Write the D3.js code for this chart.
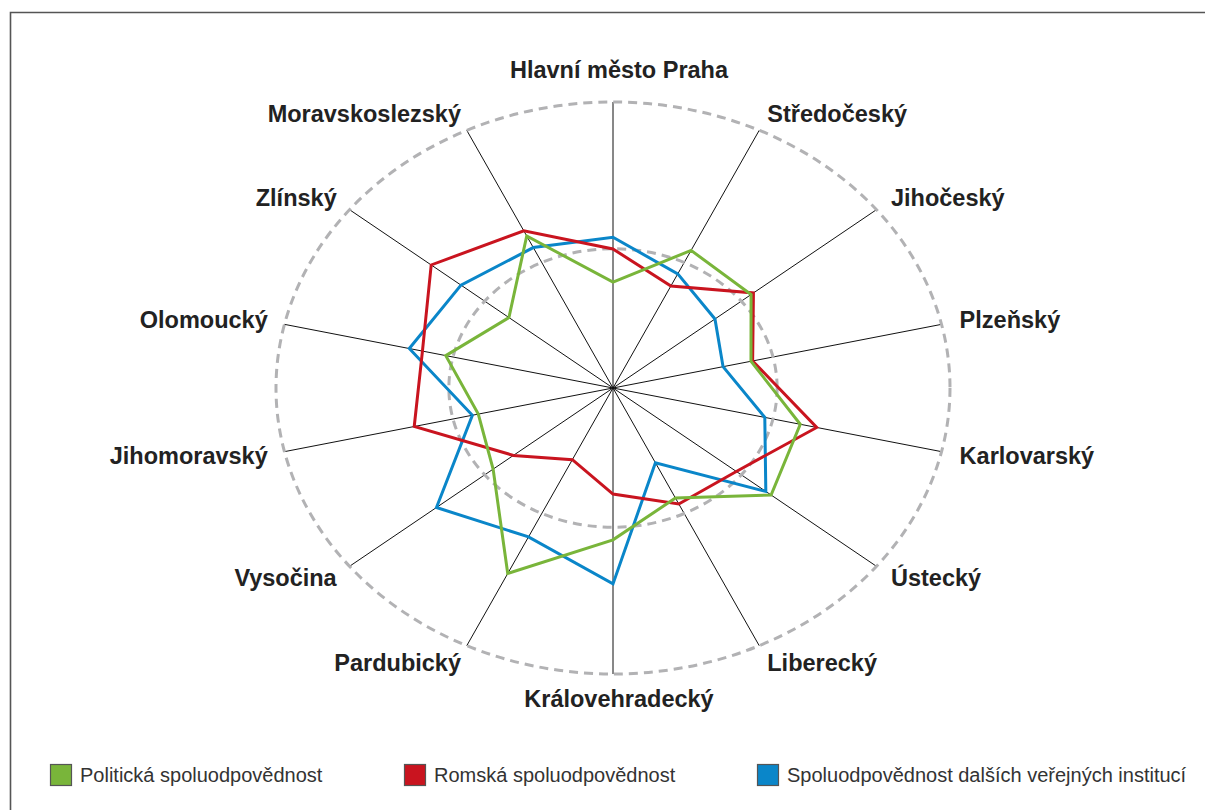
<!DOCTYPE html>
<html>
<head>
<meta charset="utf-8">
<script src="https://cdn.jsdelivr.net/npm/d3@7/dist/d3.min.js"></script>
<style>
  html, body { margin: 0; padding: 0; background: #fff; }
  svg { display: block; }
</style>
</head>
<body>
<svg id="chart" width="1205" height="810"></svg>
<script>
// ---------- data ----------
const regions = ["Hlavní město Praha", "Středočeský", "Jihočeský", "Plzeňský", "Karlovarský",
  "Ústecký", "Liberecký", "Královehradecký", "Pardubický", "Vysočina", "Jihomoravský",
  "Olomoucký", "Zlínský", "Moravskoslezský"];
const seriesNames = ["Politická spoluodpovědnost", "Romská spoluodpovědnost",
  "Spoluodpovědnost dalších veřejných institucí"];
const politicka = [37.0, 53.4, 52.4, 42.0, 57.0, 60.0, 42.7, 53.1, 72.0, 45.5, 41.0, 50.9, 39.5, 59.0];
const romska    = [48.6, 39.6, 53.3, 42.5, 62.0, 46.8, 45.0, 37.1, 27.8, 37.8, 60.5, 58.0, 69.0, 61.0];
const dalsi     = [52.7, 44.3, 38.7, 33.5, 46.2, 58.0, 29.0, 68.5, 57.8, 67.0, 42.8, 62.0, 57.7, 54.5];
const gridLevels = [48.7, 100];
const maxValue = 100;
const colors = ["#79b53a", "#c9141f", "#0a86c9"];

// ---------- layout ----------
const svg = d3.select("#chart");
const cx = 613, cy = 388, rx = 337, ry = 286;
const r = d3.scaleLinear().domain([0, maxValue]).range([0, 1]);
const angle = d3.scalePoint().domain(d3.range(regions.length)).range([0, 2 * Math.PI * (regions.length - 1) / regions.length]);
const px = (i, v) => cx + r(v) * rx * Math.sin(angle(i));
const py = (i, v) => cy - r(v) * ry * Math.cos(angle(i));

// frame
svg.append("path")
  .attr("d", "M10.5,830 L10.5,12.5 L1205,12.5")
  .attr("fill", "none").attr("stroke", "#555").attr("stroke-width", 1.6);

// axes
svg.append("g").selectAll("line").data(regions).join("line")
  .attr("x1", cx).attr("y1", cy)
  .attr("x2", (d, i) => px(i, maxValue)).attr("y2", (d, i) => py(i, maxValue))
  .attr("stroke", "#111").attr("stroke-width", 1);

// dashed rings
svg.append("g").selectAll("ellipse").data(gridLevels).join("ellipse")
  .attr("cx", cx).attr("cy", cy)
  .attr("rx", d => r(d) * rx).attr("ry", d => r(d) * ry)
  .attr("fill", "none").attr("stroke", "#b2b2b4").attr("stroke-width", 3)
  .attr("stroke-dasharray", "9,6");

// series
const line = d3.line()
  .x((d, i) => px(i, d)).y((d, i) => py(i, d))
  .curve(d3.curveLinearClosed);
const seriesData = [dalsi, romska, politicka];
const seriesColors = [colors[2], colors[1], colors[0]];
svg.append("g").selectAll("path").data(seriesData).join("path")
  .attr("d", d => line(d))
  .attr("fill", "none")
  .attr("stroke", (d, i) => seriesColors[i])
  .attr("stroke-width", 3)
  .attr("stroke-linejoin", "miter");

// labels
const labelG = svg.append("g")
  .attr("font-family", "'Liberation Sans', Arial, Helvetica, sans-serif")
  .attr("font-weight", "bold").attr("font-size", 23.5).attr("fill", "#222");
regions.forEach((name, i) => {
  const a = angle(i);
  const s = Math.sin(a);
  let x, y, anchor;
  if (Math.abs(s) < 1e-6) {
    anchor = "middle";
    x = cx + 6;
    y = cy - 1.1 * ry * Math.cos(a) - 4;
  } else {
    anchor = s > 0 ? "start" : "end";
    x = s > 0 ? cx + 1.055 * rx * s : cx + 1.06 * rx * s + 3;
    y = cy - 1.065 * ry * Math.cos(a);
  }
  labelG.append("text")
    .attr("x", x).attr("y", y)
    .attr("text-anchor", anchor)
    .attr("dy", "0.35em")
    .text(name);
});

// legend
const legendX = [50, 404, 757];
const lg = svg.append("g");
seriesNames.forEach((name, i) => {
  lg.append("rect")
    .attr("x", legendX[i] + 0.5).attr("y", 764.5)
    .attr("width", 21).attr("height", 21)
    .attr("fill", colors[i]).attr("stroke", "#555").attr("stroke-width", 1.2);
  lg.append("text")
    .attr("x", legendX[i] + 30).attr("y", 775)
    .attr("dy", "0.35em")
    .attr("font-family", "'Liberation Sans Narrow', 'Arial Narrow', 'Liberation Sans', Arial, sans-serif")
    .attr("font-size", 20).attr("fill", "#333")
    .text(name);
});
</script>
</body>
</html>
